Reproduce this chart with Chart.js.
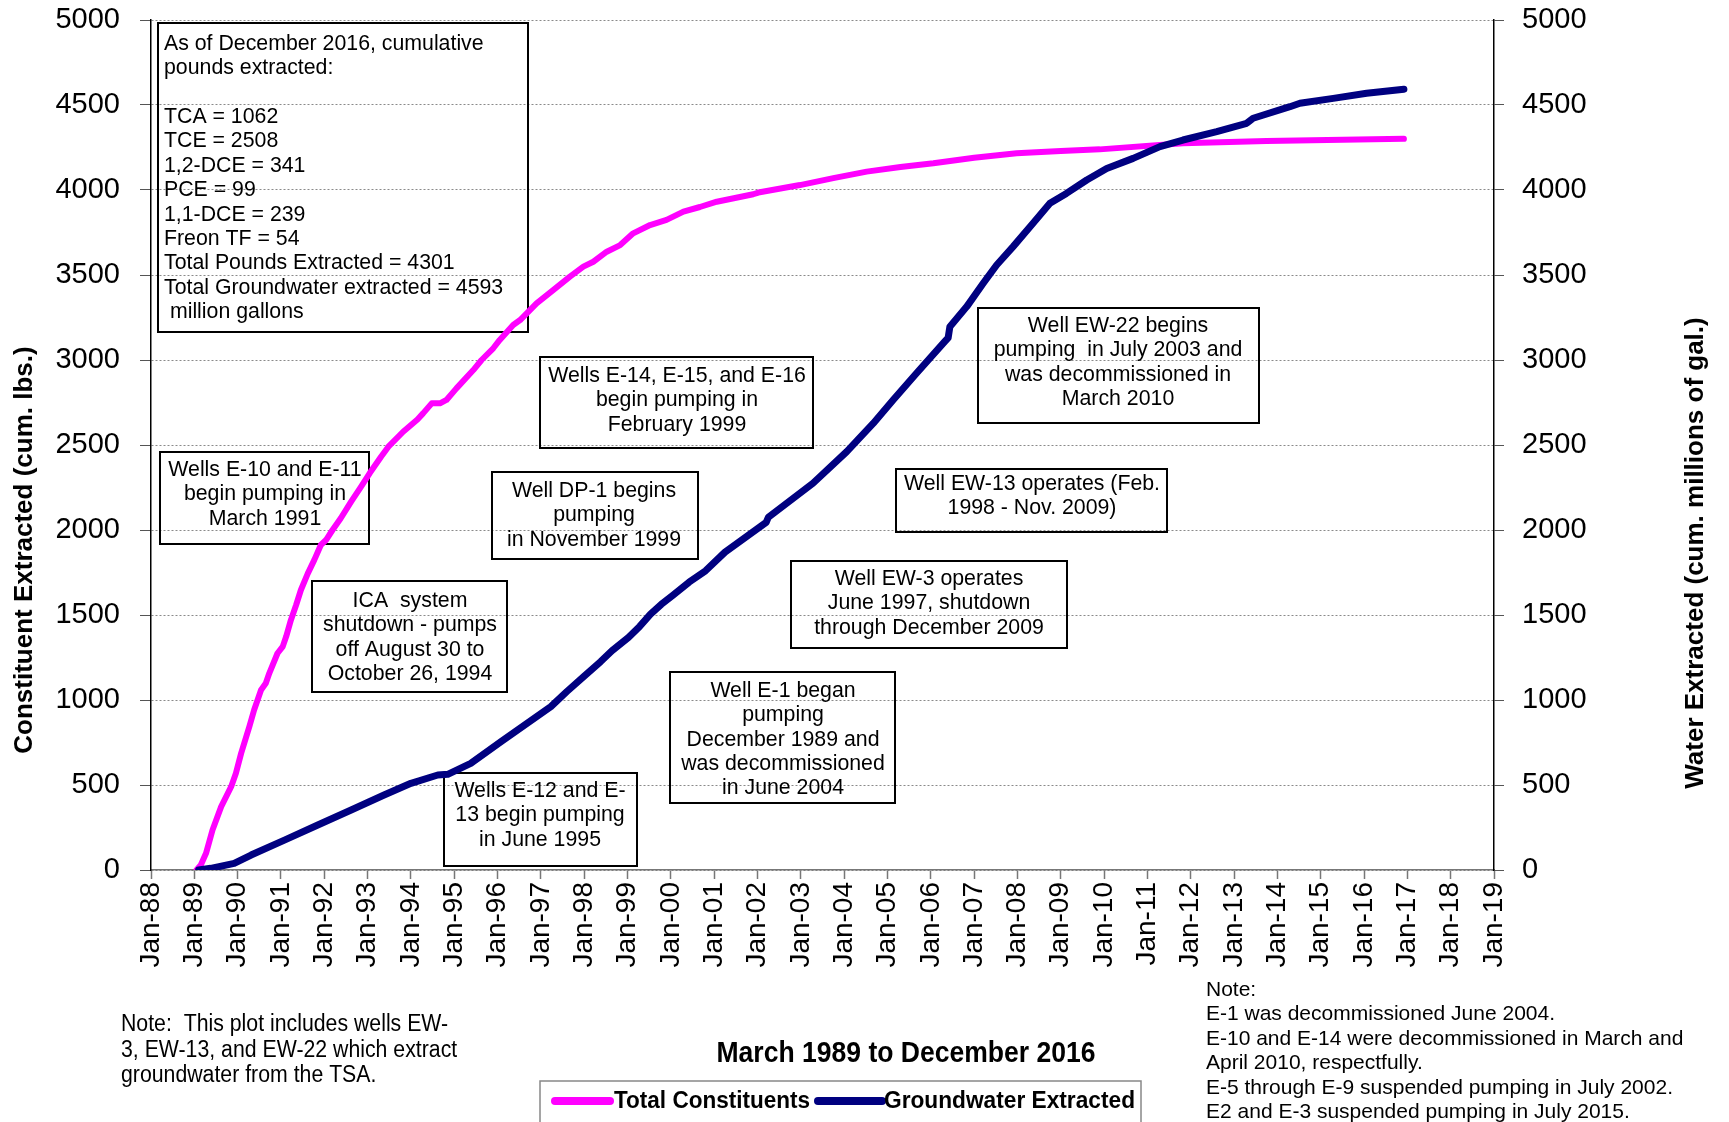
<!DOCTYPE html>
<html>
<head>
<meta charset="utf-8">
<script src="https://cdn.jsdelivr.net/npm/chart.js@4.4.1/dist/chart.umd.min.js"></script>
<style>
html,body{margin:0;padding:0;background:#fff;}
#wrap{width:1729px;height:1122px;position:relative;}
</style>
</head>
<body>
<div id="wrap"><canvas id="c" width="1729" height="1122"></canvas></div>
<script>
// ---------------- DATA ----------------
const constituentYears = [1989.05,1989.15,1989.27,1989.42,1989.62,1989.85,1989.96,1990.08,1990.27,1990.38,1990.54,1990.65,1990.73,1990.92,1991.04,1991.12,1991.23,1991.35,1991.46,1991.62,1991.77,1991.92,1992.04,1992.19,1992.38,1992.62,1992.85,1993.05,1993.31,1993.48,1993.82,1994.15,1994.28,1994.48,1994.67,1994.82,1995.05,1995.44,1995.63,1995.90,1996.05,1996.36,1996.52,1996.90,1997.29,1997.67,1997.98,1998.21,1998.52,1998.83,1999.13,1999.52,1999.90,2000.29,2000.67,2001.06,2001.90,2002.02,2002.98,2003.75,2004.52,2005.30,2006.06,2007.00,2007.98,2009.00,2009.90,2011.82,2013.75,2016.92];
const constituentValues = [0,29,98,235,373,490,569,686,843,941,1059,1098,1157,1275,1314,1373,1471,1559,1647,1745,1824,1912,1941,2000,2069,2167,2255,2335,2431,2490,2578,2650,2686,2745,2745,2765,2833,2941,3000,3069,3118,3206,3235,3333,3412,3490,3549,3578,3637,3676,3745,3794,3824,3873,3900,3931,3975,3985,4029,4070,4108,4135,4157,4190,4216,4230,4239,4275,4288,4301];

const groundwaterYears = [1989.10,1989.38,1989.92,1990.31,1991.08,1991.85,1992.62,1993.38,1994.00,1994.62,1994.85,1995.38,1996.08,1997.23,1997.60,1998.00,1998.38,1998.64,1999.02,1999.28,1999.53,1999.78,2000.04,2000.42,2000.80,2001.25,2002.20,2002.25,2003.28,2004.06,2004.67,2005.13,2005.67,2006.32,2006.40,2006.44,2006.83,2007.21,2007.52,2007.90,2008.36,2008.75,2009.13,2009.60,2010.06,2010.67,2011.29,2011.82,2012.60,2013.29,2013.44,2014.29,2014.52,2015.29,2016.06,2016.92];
const groundwaterValues = [0,10,39,88,176,265,353,441,510,559,563,627,755,961,1050,1141,1226,1290,1368,1433,1505,1563,1615,1693,1760,1870,2045,2075,2275,2461,2627,2765,2922,3108,3130,3196,3314,3451,3559,3667,3804,3922,3980,4059,4127,4186,4255,4294,4343,4392,4422,4490,4510,4539,4569,4593];

const seriesNames = ['Total Constituents', 'Groundwater Extracted'];
const seriesColors = ['#FF00FF', '#000080'];

const axisTitles = ['Constituent Extracted (cum. lbs.)', 'Water Extracted (cum. millions of gal.)'];
const subTitle = 'March 1989 to December 2016';

const summaryLines = ['As of December 2016, cumulative','pounds extracted:','','TCA = 1062','TCE = 2508','1,2-DCE = 341','PCE = 99','1,1-DCE = 239','Freon TF = 54','Total Pounds Extracted = 4301','Total Groundwater extracted = 4593',' million gallons'];

const calloutTexts = [
  ['Wells E-10 and E-11','begin pumping in','March 1991'],
  ['ICA  system','shutdown - pumps','off August 30 to','October 26, 1994'],
  ['Wells E-12 and E-','13 begin pumping','in June 1995'],
  ['Wells E-14, E-15, and E-16','begin pumping in','February 1999'],
  ['Well DP-1 begins','pumping','in November 1999'],
  ['Well E-1 began','pumping','December 1989 and','was decommissioned','in June 2004'],
  ['Well EW-3 operates','June 1997, shutdown','through December 2009'],
  ['Well EW-13 operates (Feb.','1998 - Nov. 2009)'],
  ['Well EW-22 begins','pumping  in July 2003 and','was decommissioned in','March 2010']
];

const leftNote = ['Note:  This plot includes wells EW-','3, EW-13, and EW-22 which extract','groundwater from the TSA.'];
const rightNote = ['Note:','E-1 was decommissioned June 2004.','E-10 and E-14 were decommissioned in March and','April 2010, respectfully.','E-5 through E-9 suspended pumping in July 2002.','E2 and E-3 suspended pumping in July 2015.'];

const xMin = 1988, xMax = 2019;
const yMin = 0, yMax = 5000, yStep = 500;

// ---------------- LAYOUT (pixels) ----------------
const FONT = '"Liberation Sans", Arial, Helvetica, sans-serif';
const AREA = {left:151, right:1494, top:20, bottom:870};
const fit = {x:1122 - AREA.bottom, yl:AREA.left, yr:1729 - AREA.right};
const calloutLayout = [
  {box:[160,452,369,544], cx:265, y0:470},
  {box:[312,581,507,692], cx:410, y0:601},
  {box:[444,773,637,866], cx:540, y0:791},
  {box:[540,357,813,448], cx:677, y0:376},
  {box:[492,472,698,559], cx:594, y0:491},
  {box:[670,672,895,803], cx:783, y0:691},
  {box:[791,561,1067,648], cx:929, y0:579},
  {box:[896,469,1167,532], cx:1032, y0:484},
  {box:[978,308,1259,423], cx:1118, y0:326}
];

function pts(xs, ys){ return xs.map((x,i)=>({x:x, y:ys[i]})); }

const overlay = {
  id:'overlay',
  beforeDatasetsDraw(chart){
    const ctx = chart.ctx;
    ctx.save();
    ctx.strokeStyle = '#000';
    ctx.lineWidth = 2;
    ctx.fillStyle = '#000';
    ctx.font = '21.3px ' + FONT;
    ctx.textBaseline = 'middle';
    ctx.strokeRect(158, 23, 370, 309);
    ctx.textAlign = 'left';
    summaryLines.forEach((t,i)=>{ ctx.fillText(t, 164, 44 + i*24.4); });
    ctx.textAlign = 'center';
    calloutTexts.forEach((lines,k)=>{
      const L = calloutLayout[k];
      const b = L.box;
      ctx.strokeRect(b[0], b[1], b[2]-b[0], b[3]-b[1]);
      lines.forEach((t,i)=>{ ctx.fillText(t, L.cx, L.y0 + i*24.4); });
    });
    ctx.restore();
  },
  afterDraw(chart){
    const ctx = chart.ctx;
    ctx.save();
    ctx.fillStyle = '#000';
    ctx.textBaseline = 'middle';
    ctx.textAlign = 'center';
    ctx.font = 'bold 26px ' + FONT;
    ctx.save(); ctx.translate(25, 550); ctx.rotate(-Math.PI/2); ctx.fillText(axisTitles[0], 0, 0, 417); ctx.restore();
    ctx.save(); ctx.translate(1696, 553); ctx.rotate(-Math.PI/2); ctx.fillText(axisTitles[1], 0, 0, 482); ctx.restore();
    ctx.font = 'bold 29px ' + FONT;
    ctx.fillText(subTitle, 906, 1054, 379);
    ctx.textAlign = 'left';
    ctx.font = '23px ' + FONT;
    leftNote.forEach((t,i)=>{
      ctx.save(); ctx.translate(121, 1025 + i*25.4); ctx.scale(0.925,1); ctx.fillText(t, 0, 0); ctx.restore();
    });
    ctx.font = '21px ' + FONT;
    rightNote.forEach((t,i)=>{ ctx.fillText(t, 1206, 990 + i*24.5); });
    ctx.strokeStyle = '#888'; ctx.lineWidth = 1.5;
    ctx.strokeRect(540, 1081, 601, 50);
    const ds = chart.data.datasets;
    const items = [{x0:555,x1:610,tx:614,w:196},{x0:818,x1:882,tx:884,w:251}];
    ctx.font = 'bold 23px ' + FONT;
    items.forEach((it,i)=>{
      ctx.strokeStyle = ds[i].borderColor; ctx.lineWidth = 8; ctx.lineCap = 'round';
      ctx.beginPath(); ctx.moveTo(it.x0, 1101); ctx.lineTo(it.x1, 1101); ctx.stroke();
      ctx.fillStyle = '#000';
      ctx.fillText(ds[i].label, it.tx, 1102, it.w);
    });
    ctx.restore();
  }
};

function noPad(s){ s.paddingTop = 0; s.paddingBottom = 0; }

const opts = {
  responsive:false, animation:false, devicePixelRatio:1,
  layout:{padding:{top:AREA.top, left:0, right:0, bottom:0}},
  plugins:{legend:{display:false}, tooltip:{enabled:false}, title:{display:false}},
  scales:{
    x:{type:'linear', min:xMin, max:xMax,
      afterFit(s){ s.height = fit.x; s.paddingLeft = 0; s.paddingRight = 0; },
      ticks:{stepSize:1, autoSkip:false, minRotation:90, maxRotation:90, padding:3, color:'#000',
        font:{family:FONT, size:28},
        callback:(v)=> 'Jan-' + String(Math.round(v)%100).padStart(2,'0')},
      grid:{drawOnChartArea:false, drawTicks:true, tickLength:9, tickColor:'#777', tickWidth:1.5},
      border:{display:true, color:'#777', width:1.5}
    },
    y:{type:'linear', position:'left', min:yMin, max:yMax,
      afterFit(s){ s.width = fit.yl; noPad(s); },
      ticks:{stepSize:yStep, color:'#000', padding:20, font:{family:FONT, size:29}, callback:(v)=>String(v)},
      grid:{color:'#8a8a8a', lineWidth:1, tickLength:11, tickColor:'#555', tickWidth:1},
      border:{display:true, color:'#000', width:1.5, dash:[2,2]}
    },
    y1:{type:'linear', position:'right', min:yMin, max:yMax,
      afterFit(s){ s.width = fit.yr; noPad(s); },
      ticks:{stepSize:yStep, color:'#000', padding:18, font:{family:FONT, size:29}, callback:(v)=>String(v)},
      grid:{drawOnChartArea:false, tickLength:10, tickColor:'#555', tickWidth:1},
      border:{display:true, color:'#000', width:1.5}
    }
  }
};

const chart = new Chart(document.getElementById('c'), {
  type:'line',
  data:{
    datasets:[
      {label:seriesNames[0], data:pts(constituentYears, constituentValues), borderColor:seriesColors[0], backgroundColor:seriesColors[0], borderWidth:6, pointRadius:0, tension:0, yAxisID:'y', order:2, borderCapStyle:'round', borderJoinStyle:'round'},
      {label:seriesNames[1], data:pts(groundwaterYears, groundwaterValues), borderColor:seriesColors[1], backgroundColor:seriesColors[1], borderWidth:7, pointRadius:0, tension:0, yAxisID:'y1', order:1, borderCapStyle:'round', borderJoinStyle:'round'}
    ]
  },
  options:opts,
  plugins:[overlay]
});

// fine alignment of the plot area with the target frame
(function(){
  const ca = chart.chartArea;
  if (!ca) return;
  const dTop = AREA.top - ca.top, dBot = ca.bottom - AREA.bottom, dL = AREA.left - ca.left, dR = ca.right - AREA.right;
  if (Math.abs(dTop) + Math.abs(dBot) + Math.abs(dL) + Math.abs(dR) < 0.5) return;
  opts.layout.padding.top = Math.max(0, opts.layout.padding.top + dTop);
  fit.x += dBot; fit.yl += dL; fit.yr += dR;
  chart.options.layout.padding = Object.assign({}, opts.layout.padding);
  chart.update();
})();
</script>
</body>
</html>
